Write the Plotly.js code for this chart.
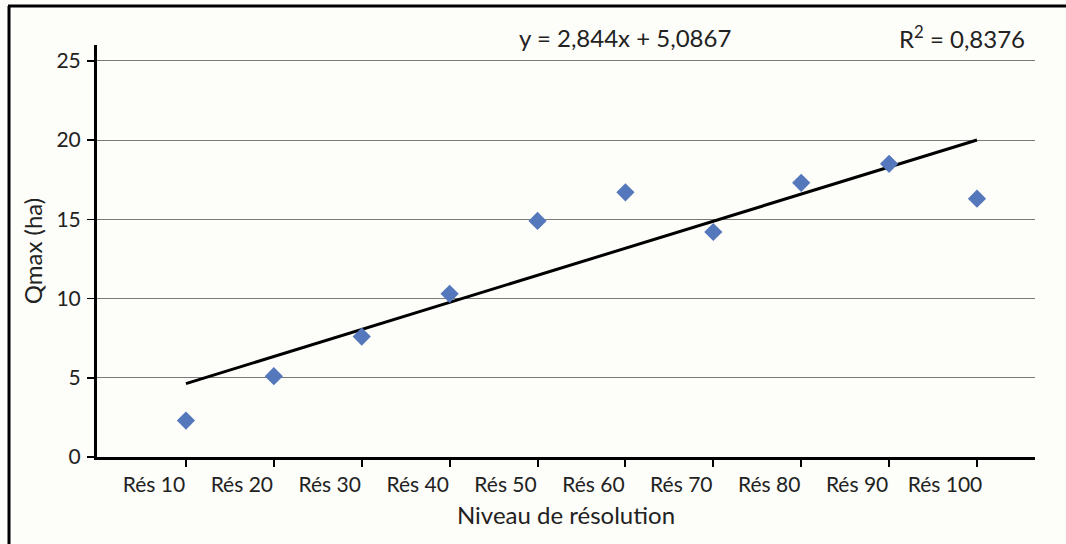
<!DOCTYPE html>
<html>
<head>
<meta charset="utf-8">
<script src="https://cdn.plot.ly/plotly-3.0.1.min.js"></script>
<style>
html,body{margin:0;padding:0;background:#fdfdf9;}
#chart{width:1066px;height:544px;}
</style>
</head>
<body>
<div id="chart"></div>
<script>
// Data
var categories = ["Rés 10","Rés 20","Rés 30","Rés 40","Rés 50","Rés 60","Rés 70","Rés 80","Rés 90","Rés 100"];
var qmax = [2.3, 5.1, 7.6, 10.3, 14.9, 16.7, 14.2, 17.3, 18.5, 16.3];
var yTicks = [0, 5, 10, 15, 20, 25];
var equationText = "y = 2,844x + 5,0867";
var r2Text = "R<sup>2</sup> = 0,8376";

// Least-squares trend line from the data
var n = qmax.length;
var idx = categories.map(function(_, i){ return i; });
var mx = idx.reduce(function(a,b){return a+b;},0)/n;
var my = qmax.reduce(function(a,b){return a+b;},0)/n;
var sxy = 0, sxx = 0;
for (var i=0;i<n;i++){ sxy += (idx[i]-mx)*(qmax[i]-my); sxx += (idx[i]-mx)*(idx[i]-mx); }
var slope = sxy/sxx, icpt = my - slope*mx;
var trendX = [0, n-1];
var trendY = trendX.map(function(x){ return icpt + slope*x; });

var font = "Lato, 'Open Sans', sans-serif";

var traces = [
  {
    x: trendX, y: trendY, type: 'scatter', mode: 'lines',
    line: {color: '#000000', width: 3}, hoverinfo: 'skip', showlegend: false
  },
  {
    x: idx, y: qmax, type: 'scatter', mode: 'markers',
    marker: {symbol: 'diamond', size: 14, color: '#5577bb'},
    showlegend: false
  }
];

var L = 97, R = 1035, T = 45, B = 457;
function px(x){ return (x - L)/(R - L); }
function py(y){ return (B - y)/(B - T); }

var layout = {
  width: 1066, height: 544,
  margin: {l: L, r: 1066 - R, t: T, b: 544 - B, pad: 0},
  paper_bgcolor: '#fdfdf9',
  plot_bgcolor: '#fdfdf9',
  font: {family: font, color: '#222222', size: 21},
  xaxis: {
    range: [-1.012, 9.66],
    tickvals: idx,
    ticktext: categories,
    ticks: 'outside', ticklen: 7, tickwidth: 2, tickcolor: '#000',
    ticklabelshift: -32,
    ticklabelstandoff: 0,
    showline: true, linecolor: '#000', linewidth: 3,
    showgrid: false, zeroline: false,
    tickfont: {family: font, size: 21, color: '#222'},
    title: {text: 'Niveau de résolution', font: {family: font, size: 24, color: '#222'}, standoff: 12}
  },
  yaxis: {
    range: [0, 26],
    tickvals: yTicks,
    ticks: 'outside', ticklen: 7, tickwidth: 1.5, tickcolor: '#000',
    ticklabelstandoff: 2,
    showline: true, linecolor: '#000', linewidth: 3,
    showgrid: true, gridcolor: '#7a7a7a', gridwidth: 1,
    zeroline: false,
    tickfont: {family: font, size: 21, color: '#222'},
    title: {text: 'Qmax (ha)', font: {family: font, size: 24, color: '#222'}, standoff: 8}
  },
  annotations: [
    {text: equationText, xref: 'paper', yref: 'paper', x: px(625), y: py(37),
     showarrow: false, xanchor: 'center', yanchor: 'middle',
     font: {family: font, size: 24, color: '#222'}},
    {text: r2Text, xref: 'paper', yref: 'paper', x: px(962), y: py(37),
     showarrow: false, xanchor: 'center', yanchor: 'middle',
     font: {family: font, size: 24, color: '#222'}}
  ],
  shapes: [
    {type: 'line', xref: 'paper', yref: 'paper', x0: px(8), x1: px(1066), y0: py(6), y1: py(6),
     line: {color: '#000', width: 3}},
    {type: 'line', xref: 'paper', yref: 'paper', x0: px(9), x1: px(9), y0: py(6), y1: py(560),
     line: {color: '#000', width: 3}}
  ]
};

Plotly.newPlot('chart', traces, layout, {displayModeBar: false, staticPlot: true});
</script>
</body>
</html>
